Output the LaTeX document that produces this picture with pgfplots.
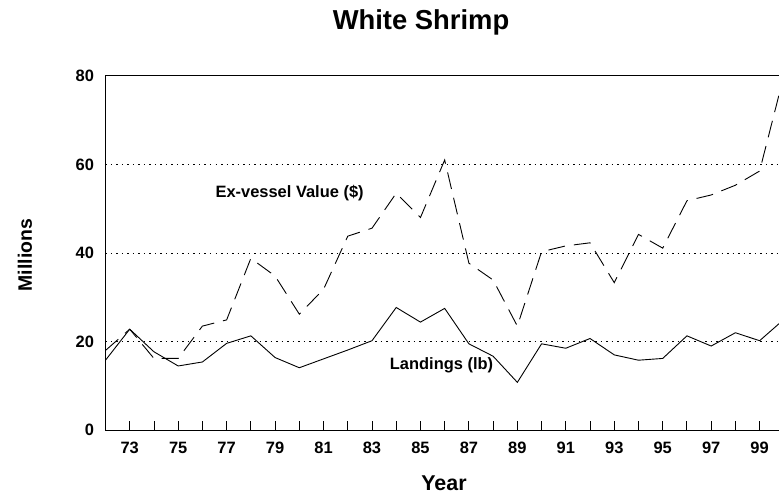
\documentclass[border=0pt]{standalone}
\usepackage{fontspec}
\setmainfont{Liberation Sans}
\usepackage{pgfplots}
\pgfplotsset{compat=1.18}
\begin{document}
\begin{tikzpicture}
\begin{axis}[
  at={(0,0)}, anchor=south west,
  scale only axis,
  width=673.5bp, height=354.4bp,
  xmin=72, xmax=99.8, ymin=0, ymax=80,
  axis x line*=box, axis y line*=left,
  xtick pos=left,
  axis line style={black, line width=1.1bp},
  xtick={73,75,...,99},
  minor xtick={74,76,...,98},
  tick align=inside,
  major tick length=9.5bp, minor tick length=9.5bp,
  xtick style={black, line width=0.9bp},
  ytick={0,20,40,60,80},
  ytick style={draw=none},
  ymajorgrids,
  grid style={black, line width=0.9bp, dash pattern=on 1.5bp off 4bp},
  /pgf/number format/assume math mode=true,
  ticklabel style={font=\bfseries\fontsize{16.5}{17}\selectfont},
  xticklabel shift=8.5bp,
  yticklabel shift=8bp,
  every axis title shift=0pt,
  title={White Shrimp},
  title style={font=\bfseries\fontsize{27.5}{30}\selectfont, at={(axis description cs:0.4685,1.150)}, anchor=center},
  xlabel={Year},
  xlabel style={font=\bfseries\fontsize{21.5}{23}\selectfont, at={(axis description cs:0.5026,-0.149)}, anchor=center},
  ylabel={Millions},
  ylabel style={font=\bfseries\fontsize{19.5}{21}\selectfont, at={(axis description cs:-0.1195,0.494)}, anchor=center},
  clip=true,
]
\addplot[black, line width=0.9bp] coordinates {
(72,15.8) (73,22.8) (74,17.7) (75,14.5) (76,15.4) (77,19.6) (78,21.3) (79,16.4)
(80,14.1) (81,16.1) (82,18.1) (83,20.2) (84,27.7) (85,24.4) (86,27.5) (87,19.5)
(88,16.7) (89,10.8) (90,19.5) (91,18.5) (92,20.7) (93,17.0) (94,15.8) (95,16.2)
(96,21.3) (97,19.0) (98,22.0) (99,20.2) (100,25.0)
};
\addplot[black, line width=0.9bp, dash pattern=on 17bp off 9bp] coordinates {
(72,18.0) (73,22.8) (74,16.2) (75,16.2) (76,23.5) (77,24.9) (78,38.8) (79,34.8)
(80,26.2) (81,31.8) (82,43.8) (83,45.6) (84,53.5) (85,48.0) (86,61.0) (87,37.7)
(88,33.9) (89,23.5) (90,40.3) (91,41.6) (92,42.3) (93,33.3) (94,44.2) (95,41.1)
(96,51.8) (97,53.1) (98,55.3) (99,58.5) (100,80.0)
};
\node[font=\bfseries\fontsize{16.5}{17}\selectfont] at (axis cs:79.6,53.6) {Ex-vessel Value (\$)};
\node[font=\bfseries\fontsize{16.5}{17}\selectfont] at (axis cs:85.87,14.7) {Landings (lb)};
\end{axis}
\pgfresetboundingbox
\path (-105.5bp,-66.8bp) rectangle (673.5bp,430.2bp);
\end{tikzpicture}
\end{document}
